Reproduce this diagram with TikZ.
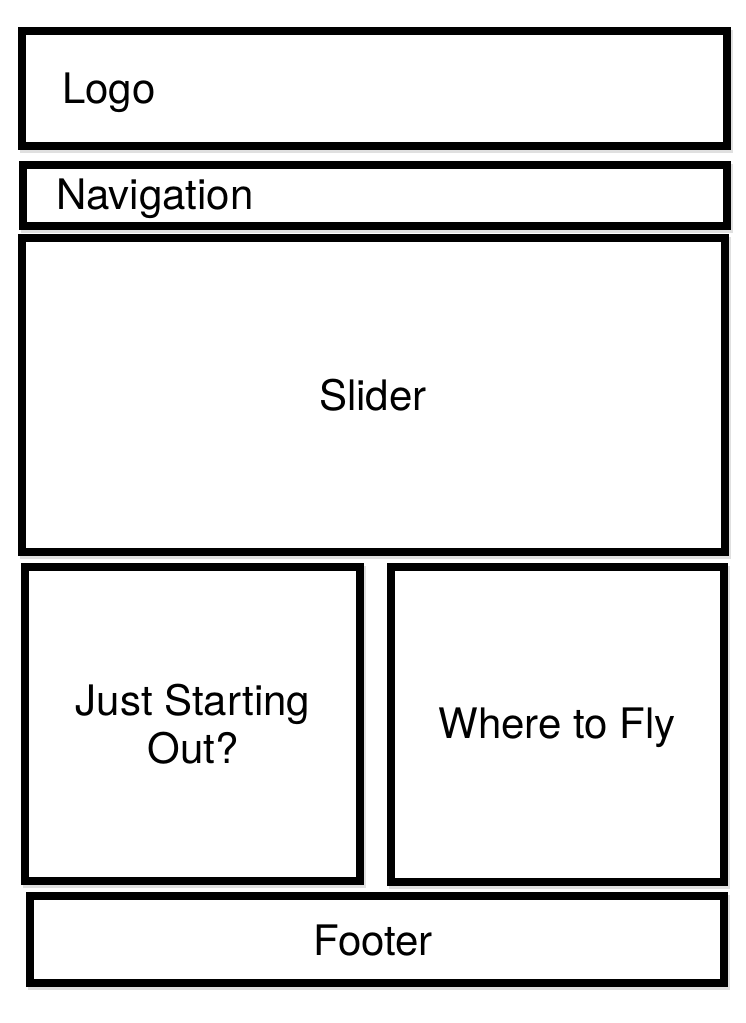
\documentclass[tikz,border=0pt]{standalone}
\usepackage{fontspec}
\setmainfont{TeX Gyre Heros}
\begin{document}
\begin{tikzpicture}[x=1pt,y=-1pt,
  box/.style={draw=black, line width=8pt, line join=miter, inner sep=0pt, fill=white},
  shadowbox/.style={draw=black!12, line width=8pt},
  lbl/.style={font=\fontsize{42}{48}\selectfont, inner sep=0pt, anchor=base, align=center}]
\useasboundingbox[fill=white] (0,0) rectangle (746,1023);
% shadows
\foreach \a/\b/\c/\d in {22/31/727/146, 23/164.5/727/226, 22/237.5/725/551.5, 25/567/360/881, 391/567/724/882, 30/896/724/983}
  \draw[shadowbox] (\a+2,\b+3) rectangle (\c+2,\d+3);
\node[box, minimum width=705pt, minimum height=115pt] (logo) at (374.5,88.5) {};
\node[box, minimum width=704pt, minimum height=61.5pt] (nav) at (375,195.25) {};
\node[box, minimum width=703pt, minimum height=314pt] (slider) at (373.5,394.5) {};
\node[box, minimum width=335pt, minimum height=314pt] (just) at (192.5,724) {};
\node[box, minimum width=333pt, minimum height=315pt] (where) at (557.5,724.5) {};
\node[box, minimum width=694pt, minimum height=87pt] (footer) at (377,939.5) {};
\node[lbl, anchor=base west] (tlogo) at (62,103) {Logo};
\node[lbl, anchor=base west] (tnav) at (56,209) {Navigation};
\node[lbl] (tslider) at (373,410) {Slider};
\node[lbl, anchor=north] (tjust) at (193,684) {Just Starting\\Out?};
\node[lbl] (twhere) at (557,738) {Where to Fly};
\node[lbl] (tfooter) at (373,955) {Footer};
\end{tikzpicture}
\end{document}
